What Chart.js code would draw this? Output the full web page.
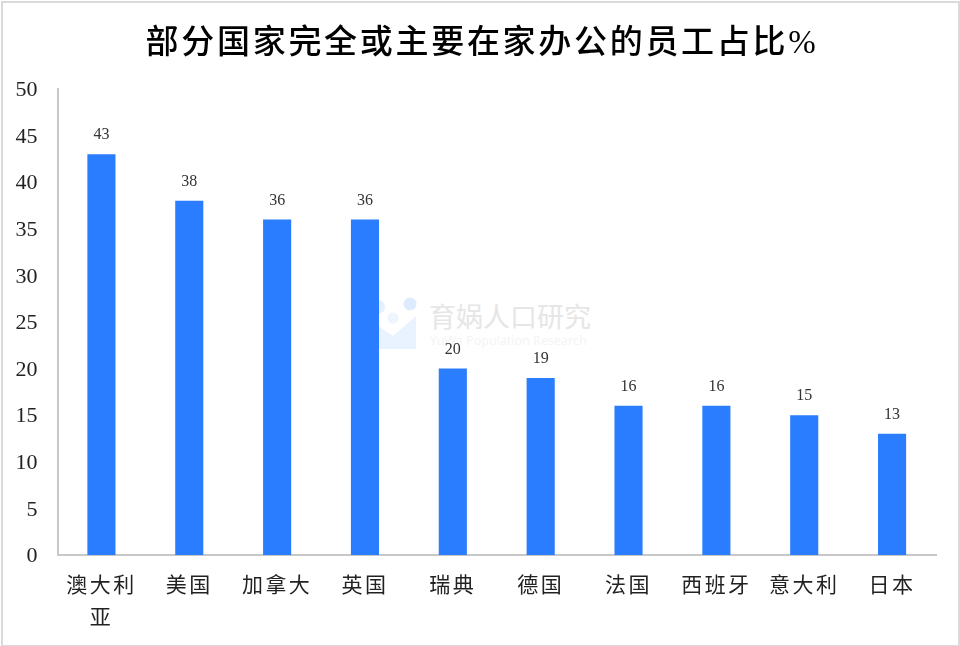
<!DOCTYPE html>
<html lang="zh-CN">
<head>
  <meta charset="UTF-8">
  <title>部分国家完全或主要在家办公的员工占比%</title>
  <script src="https://cdn.jsdelivr.net/npm/chart.js"></script>
  <style>
    html, body { margin: 0; padding: 0; background: #fff; }
    #wrap { position: relative; width: 960px; height: 646px; overflow: hidden; }
    #frame { position: absolute; left: 1px; top: 1px; width: 955px; height: 642px; border: 2px solid #d9d9d9; }
    canvas { position: absolute; left: 0; top: 0; }
    #mark { position: absolute; left: 370px; top: 296px; width: 225px; height: 56px; pointer-events: none; }
    #mark svg { position: absolute; left: 0; top: 0; }
    #markCn { position: absolute; left: 59px; top: 1px; font: 27px/38px "Noto Sans CJK SC"; color: #e6e6e6; white-space: nowrap; }
    #markEn { position: absolute; left: 60px; top: 38px; font: 12.5px/14px "Noto Sans"; color: #f4f4f4; white-space: nowrap; }
  </style>
</head>
<body>
<div id="wrap">
  <div id="frame"></div>
  <div id="mark">
    <svg width="48" height="56" viewBox="0 0 48 56">
      <circle cx="8" cy="11" r="7" fill="#2a7dfe" opacity="0.12"/>
      <circle cx="40" cy="8" r="6.5" fill="#2a7dfe" opacity="0.16"/>
      <circle cx="23" cy="22" r="5.5" fill="#2a7dfe" opacity="0.08"/>
      <path d="M1 25 L23 40 L46 20 L46 53 L1 53 Z" fill="#2a7dfe" opacity="0.1"/>
    </svg>
    <div id="markCn">育娲人口研究</div>
    <div id="markEn">YuWa Population Research</div>
  </div>
  <canvas id="chart" width="960" height="646"></canvas>
</div>

<script>
  const categories = [['澳大利', '亚'], '美国', '加拿大', '英国', '瑞典', '德国', '法国', '西班牙', '意大利', '日本'];
  const shares = [43, 38, 36, 36, 20, 19, 16, 16, 15, 13];
  const titleText = '部分国家完全或主要在家办公的员工占比%';

  const serif = '"Liberation Serif", "Noto Sans CJK SC", serif';

  // Chart.js has no letter spacing or text offset option, so wrap the draw call
  function nudge(obj, method, spacing, dx, dy) {
    if (obj[method].nudged) return;
    const orig = obj[method];
    obj[method] = function () {
      const ctx = this.ctx;
      ctx.save();
      ctx.letterSpacing = spacing;
      ctx.translate(dx, dy);
      orig.apply(this, arguments);
      ctx.restore();
    };
    obj[method].nudged = true;
  }

  const nudgePlugin = {
    id: 'nudge',
    afterUpdate(chart) {
      nudge(chart.titleBlock, 'draw', '2.7px', 14, 3);
      nudge(chart.scales.x, 'drawLabels', '2.5px', 0, 0);
      nudge(chart.scales.y, 'drawLabels', '0px', 0, 1.5);
    }
  };

  const barLabels = {
    id: 'barLabels',
    afterDatasetsDraw(chart) {
      const ctx = chart.ctx;
      const meta = chart.getDatasetMeta(0);
      ctx.save();
      ctx.font = '16px ' + serif;
      ctx.fillStyle = '#333';
      ctx.textAlign = 'center';
      ctx.textBaseline = 'middle';
      meta.data.forEach((bar, i) => {
        ctx.fillText(shares[i], bar.x, bar.y - 19);
      });
      ctx.restore();
    }
  };

  new Chart(document.getElementById('chart'), {
    type: 'bar',
    data: {
      labels: categories,
      datasets: [{
        data: shares,
        backgroundColor: '#2a7dfe',
        barPercentage: 0.32,
        categoryPercentage: 1
      }]
    },
    options: {
      responsive: false,
      animation: false,
      layout: { padding: { left: 0, right: 24, top: 0, bottom: 0 } },
      plugins: {
        legend: { display: false },
        tooltip: { enabled: false },
        title: {
          display: true,
          text: titleText,
          color: '#000',
          font: { family: serif, size: 33, weight: '500', lineHeight: 1.3 },
          padding: { top: 20, bottom: 26 }
        }
      },
      scales: {
        x: {
          grid: { display: false },
          border: { color: '#c8c8c8', width: 2 },
          afterFit(scale) { scale.height = 91; },
          ticks: {
            color: '#222',
            font: { family: '"Noto Sans CJK SC"', size: 21, lineHeight: 1.52 },
            maxRotation: 0,
            autoSkip: false,
            padding: 5
          }
        },
        y: {
          min: 0,
          max: 50,
          grid: { display: false },
          border: { color: '#c8c8c8', width: 2 },
          afterFit(scale) { scale.width = 57.5; },
          ticks: {
            stepSize: 5,
            color: '#222',
            font: { family: serif, size: 22 },
            padding: 12
          }
        }
      }
    },
    plugins: [nudgePlugin, barLabels]
  });
</script>
</body>
</html>
